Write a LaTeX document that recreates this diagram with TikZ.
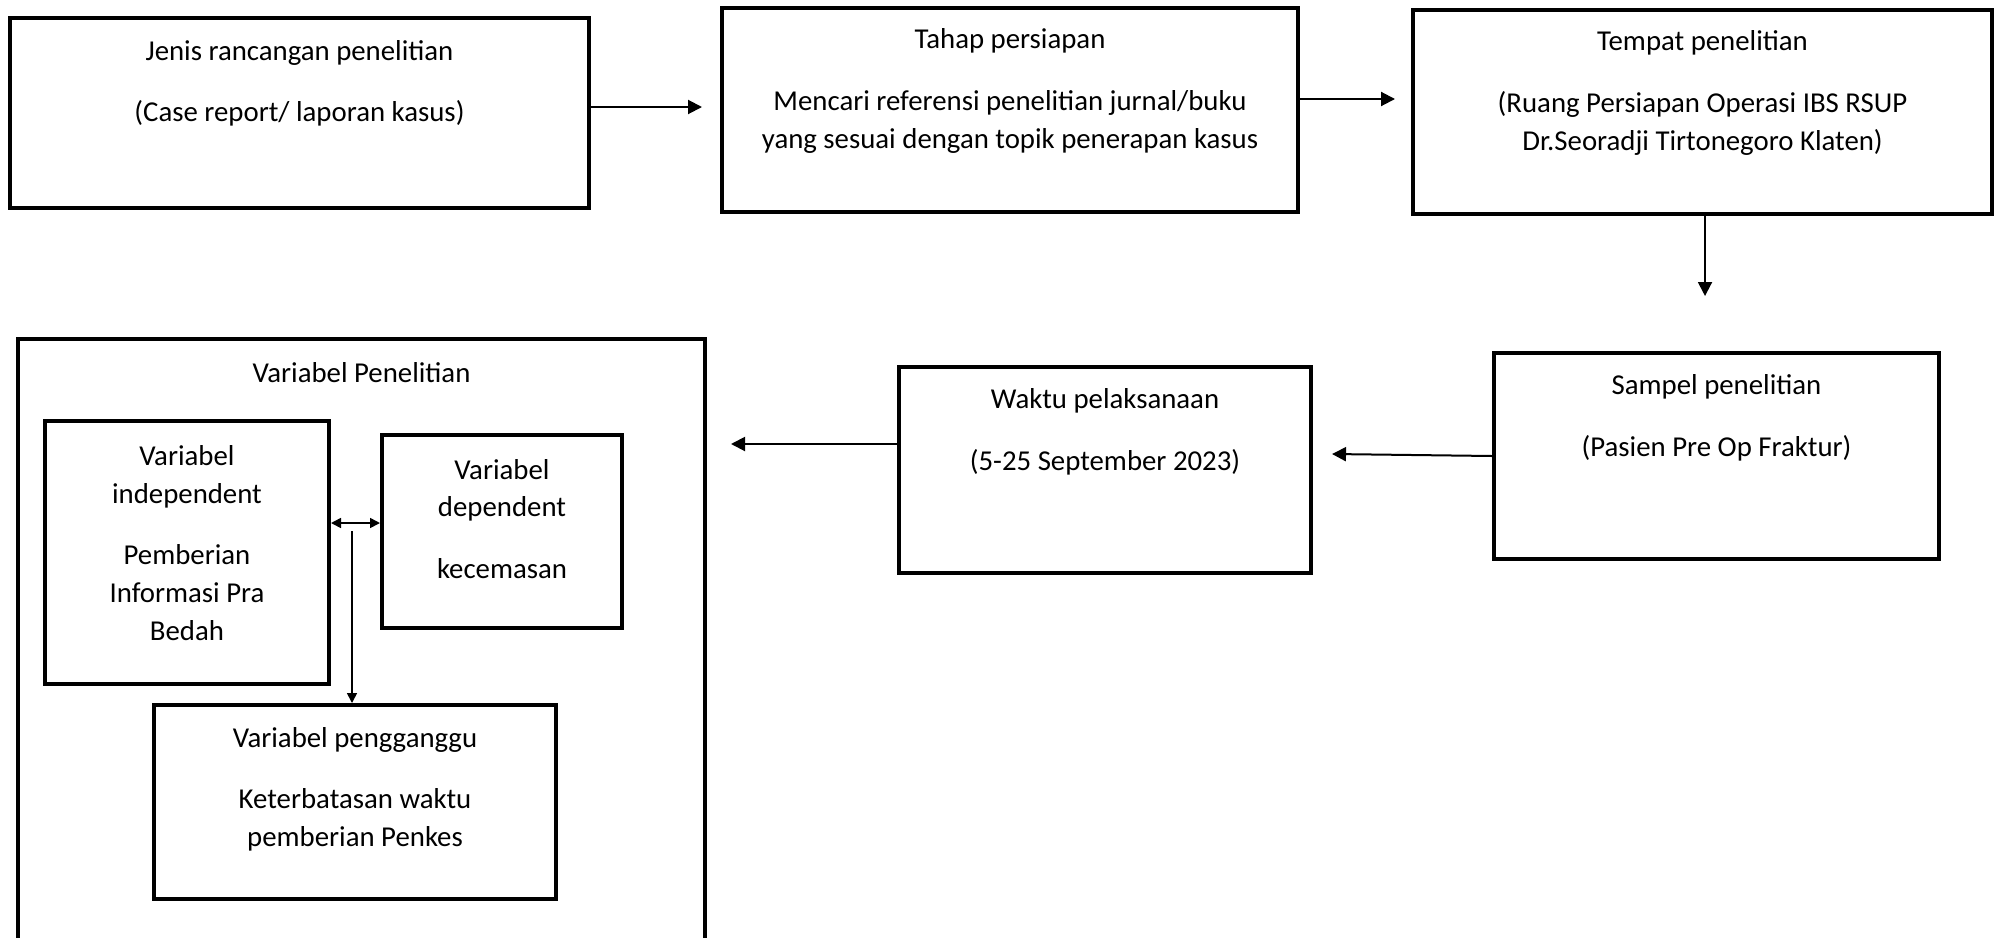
\documentclass[tikz,border=0pt]{standalone}
\usepackage{fontspec}
\setmainfont{Carlito}
\usetikzlibrary{arrows.meta}

\begin{document}
\begin{tikzpicture}[x=0.5pt, y=-0.5pt,
    box/.style={draw, line width=2pt, inner sep=0pt},
    txt/.style={align=center, inner sep=0pt, font=\fontsize{14.4}{18.8}\selectfont},
    arr/.style={line width=1pt, -{Triangle[length=7pt, width=7pt]}},
    link arr/.style={line width=0.8pt, -{Triangle[length=5pt, width=5pt]}}]
    \useasboundingbox (0,0) rectangle (2000,937);

    % Define boxes
    \node[box, minimum width=289.5pt, minimum height=95pt] (jenis) at (299.5,113) {};
    \node[box, minimum width=288pt, minimum height=102pt] (tahap) at (1010,110) {};
    \node[box, minimum width=289.5pt, minimum height=102pt] (tempat) at (1702.5,112) {};
    \node[box, minimum width=222.5pt, minimum height=103pt] (sampel) at (1716.5,456) {};
    \node[box, minimum width=206pt, minimum height=103pt] (waktu) at (1105,470) {};
    \node[box, minimum width=343.5pt, minimum height=311pt] (variabel) at (361.5,650) {};
    \node[box, minimum width=142pt, minimum height=131.5pt] (indep) at (187,552.5) {};
    \node[box, minimum width=120pt, minimum height=96.5pt] (dep) at (502,531.5) {};
    \node[box, minimum width=201pt, minimum height=97pt] (ganggu) at (355,802) {};

    % Texts in the boxes
    \node[txt] (jenis text) at (299.5,83.5) {Jenis rancangan penelitian\\[12pt](Case report/ laporan kasus)};
    \node[txt] (tahap text) at (1010,91) {Tahap persiapan\\[12pt]Mencari referensi penelitian jurnal/buku\\yang sesuai dengan topik penerapan kasus};
    \node[txt] (tempat text) at (1702.5,93) {Tempat penelitian\\[12pt](Ruang Persiapan Operasi IBS RSUP\\Dr.Seoradji Tirtonegoro Klaten)};
    \node[txt] (sampel text) at (1716.5,418) {Sampel penelitian\\[12pt](Pasien Pre Op Fraktur)};
    \node[txt] (waktu text) at (1105,432) {Waktu pelaksanaan\\[12pt](5-25 September 2023)};
    \node[txt] (variabel text) at (361.5,373) {Variabel Penelitian};
    \node[txt] (indep text) at (187,543) {Variabel\\independent\\[12pt]Pemberian\\Informasi Pra\\Bedah};
    \node[txt] (dep text) at (502,519) {Variabel\\dependent\\[12pt]kecemasan};
    \node[txt] (ganggu text) at (355,789) {Variabel pengganggu\\[12pt]Keterbatasan waktu\\pemberian Penkes};

    % Arrow tips
    \coordinate (tip1) at (702,107);
    \coordinate (tip2) at (1395,99);
    \coordinate (tip3) at (1705,296);
    \coordinate (tip4) at (1332,454);
    \coordinate (tip5) at (731,444);
    \coordinate (link) at (352,523);
    \coordinate (drop) at (352,531);

    % Draw edges with arrows
    \draw[arr] (jenis.east |- tip1) -- (tip1);
    \draw[arr] (tahap.east |- tip2) -- (tip2);
    \draw[arr] (tempat.south -| tip3) -- (tip3);
    \draw[arr] (sampel.west) -- (tip4);
    \draw[arr] (waktu.west |- tip5) -- (tip5);
    \draw[link arr, {Triangle[length=5pt, width=5pt]}-{Triangle[length=5pt, width=5pt]}] (indep.east |- link) -- (dep.west |- link);
    \draw[link arr] (drop) -- (drop |- ganggu.north);
\end{tikzpicture}
\end{document}
